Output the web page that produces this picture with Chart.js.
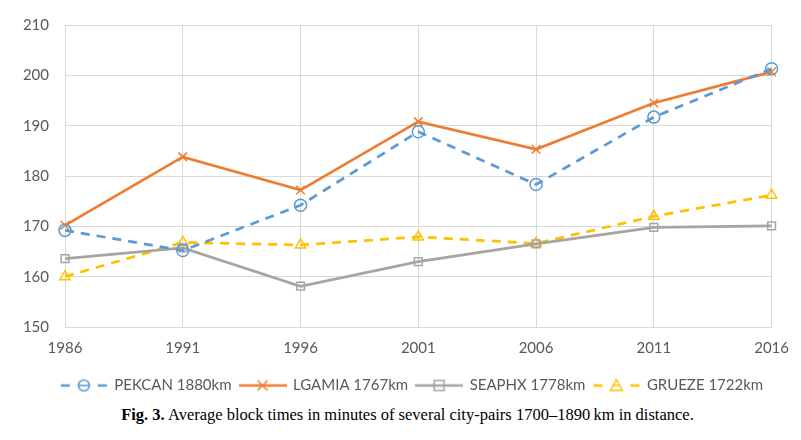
<!DOCTYPE html>
<html>
<head>
<meta charset="utf-8">
<script src="https://cdn.jsdelivr.net/npm/chart.js@4/dist/chart.umd.min.js"></script>
<style>
  body { margin: 0; background: #fff; }
  #wrap { position: relative; width: 801px; height: 403px; }
  #caption {
    position: absolute; top: 405px; left: 0; width: 801px; text-align: center;
    font-family: "Liberation Serif", "Times New Roman", serif; font-size: 16.5px; color: #000;
    padding-left: 14px; box-sizing: border-box;
  }
</style>
</head>
<body>
<div id="wrap"><canvas id="blockChart"></canvas></div>
<div id="caption"><b>Fig. 3.</b> Average block times in minutes of several city-pairs 1700–1890&thinsp;km in distance.</div>
<script>
// Years on the x axis
const years = ['1986', '1991', '1996', '2001', '2006', '2011', '2016'];

// Average block times (minutes)
const pekcan = [169.2, 165.2, 174.2, 188.8, 178.3, 191.7, 201.3];
const lgamia = [170.2, 183.8, 177.2, 190.8, 185.3, 194.5, 200.7];
const seaphx = [163.6, 165.7, 158.1, 163.0, 166.5, 169.8, 170.1];
const grueze = [160.0, 166.8, 166.3, 167.9, 166.6, 172.0, 176.2];

const textColor = '#595959';
const gridColor = '#d9d9d9';

// small canvas used as legend sample: line segment with the marker in the middle
function legendSample(color, dashed, style) {
    const c = document.createElement('canvas');
    c.width = 48; c.height = 16;
    const g = c.getContext('2d');
    g.strokeStyle = color;
    g.lineWidth = 2.5;
    if (dashed) {
        g.beginPath(); g.moveTo(1, 8); g.lineTo(10, 8); g.stroke();
        g.beginPath(); g.moveTo(38, 8); g.lineTo(47, 8); g.stroke();
    } else {
        g.beginPath(); g.moveTo(0, 8); g.lineTo(48, 8); g.stroke();
    }
    g.lineWidth = 1.5;
    g.beginPath();
    if (style === 'circle') {
        g.arc(24, 8, 5.5, 0, Math.PI * 2);
        g.moveTo(19, 8); g.lineTo(29, 8);
    } else if (style === 'crossRot') {
        g.moveTo(19, 3); g.lineTo(29, 13);
        g.moveTo(29, 3); g.lineTo(19, 13);
    } else if (style === 'rect') {
        g.rect(19, 3, 10, 10);
    } else if (style === 'triangle') {
        g.moveTo(24, 2); g.lineTo(30, 13); g.lineTo(18, 13); g.closePath();
        g.moveTo(21, 8); g.lineTo(27, 8);
    }
    g.stroke();
    return c;
}

function series(label, data, color, dashed, style) {
    return {
        label: label,
        data: data,
        borderColor: color,
        backgroundColor: 'rgba(0,0,0,0)',
        borderWidth: 2.75,
        borderDash: dashed ? [9, 7] : [],
        pointStyle: style,
        pointRadius: style === 'rect' ? 5.5 : 6,
        pointBorderWidth: 1.5,
        pointBorderColor: color,
        pointBackgroundColor: 'rgba(0,0,0,0)',
        tension: 0,
        legendImage: legendSample(color, dashed, style)
    };
}

// move the legend a little right, as in the figure
const legendShift = {
    id: 'legendShift',
    afterLayout(chart) {
        chart.legend.left += 25;
        chart.legend.right += 25;
    }
};

const ctx = document.getElementById('blockChart').getContext('2d');
const blockChart = new Chart(ctx, {
    type: 'line',
    data: {
        labels: years,
        datasets: [
            series('PEKCAN 1880km', pekcan, '#5b9bd5', true, 'circle'),
            series('LGAMIA 1767km', lgamia, '#ed7d31', false, 'crossRot'),
            series('SEAPHX 1778km', seaphx, '#a5a5a5', false, 'rect'),
            series('GRUEZE 1722km', grueze, '#ffc000', true, 'triangle')
        ]
    },
    plugins: [legendShift],
    options: {
        responsive: true,
        maintainAspectRatio: false,
        animation: false,
        layout: { padding: { left: 0, right: 27, top: 25, bottom: 0 } },
        plugins: {
            legend: {
                position: 'bottom',
                labels: {
                    color: textColor,
                    font: { family: 'Lato', size: 15 },
                    usePointStyle: true,
                    pointStyleWidth: 46,
                    padding: 8,
                    generateLabels: (chart) => chart.data.datasets.map((ds, i) => ({
                        text: ds.label,
                        fontColor: textColor,
                        pointStyle: ds.legendImage,
                        datasetIndex: i,
                        hidden: false,
                        lineWidth: 0
                    }))
                }
            },
            tooltip: { enabled: false }
        },
        scales: {
            x: {
                grid: { color: gridColor, drawTicks: false },
                border: { color: gridColor },
                ticks: { color: textColor, font: { family: 'Lato', size: 15 }, padding: 12, maxRotation: 0 },
                afterFit: (scale) => { scale.height = 43; }
            },
            y: {
                min: 150,
                max: 210,
                grid: { color: gridColor, drawTicks: false },
                border: { color: gridColor },
                ticks: { stepSize: 10, color: textColor, font: { family: 'Lato', size: 15 }, padding: 16 },
                afterFit: (scale) => { scale.width = 65; }
            }
        }
    }
});
</script>
</body>
</html>
